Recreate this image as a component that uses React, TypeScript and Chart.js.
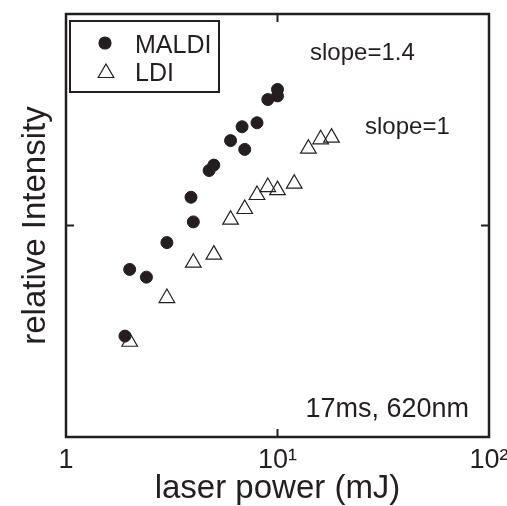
import React, { useEffect, useRef } from "react";
import { Chart, registerables } from "chart.js";

Chart.register(...registerables);

// ---- data ----
const maldiPower = [1.9, 2.0, 2.4, 3.0, 4.0, 3.9, 4.75, 5.0, 6.0, 7.0, 6.8, 8.0, 9.0, 10.0, 10.0];
const maldiIntensity = [3.0, 6.2, 5.7, 8.3, 10.4, 13.6, 18.2, 19.3, 25.2, 22.9, 29.3, 30.6, 39.4, 41.0, 44.0];
const ldiPower = [2.0, 3.0, 4.0, 5.0, 6.0, 7.0, 8.0, 9.0, 10.0, 12.0, 14.0, 16.0, 18.0];
const ldiIntensity = [2.82, 4.54, 6.67, 7.28, 10.65, 11.97, 13.94, 15.2, 14.69, 15.76, 23.08, 25.56, 26.02];
const seriesLabels = ["MALDI", "LDI"];
const xTickValues = [1, 10, 100];
const xTickLabels = ["1", "10\u00B9", "10\u00B2"];
const yTickValues = [10];
const xTitle = "laser power (mJ)";
const yTitle = "relative Intensity";
const noteTexts = ["slope=1.4", "slope=1", "17ms, 620nm"];

const INK = "#231f20";
const FONT = "'Liberation Sans', Arial, Helvetica, sans-serif";

function drawMarker(ctx: CanvasRenderingContext2D, style: string, x: number, y: number, r: number, filled: boolean) {
  ctx.beginPath();
  if (style === "triangle") {
    ctx.moveTo(x, y - r);
    ctx.lineTo(x + 0.866 * r, y + 0.5 * r);
    ctx.lineTo(x - 0.866 * r, y + 0.5 * r);
    ctx.closePath();
  } else {
    ctx.arc(x, y, r, 0, Math.PI * 2);
  }
  if (filled) {
    ctx.fillStyle = INK;
    ctx.fill();
  }
  ctx.strokeStyle = INK;
  ctx.stroke();
}

const framePlugin = {
  id: "frameAndNotes",
  afterDraw(chart: any) {
    const { ctx, chartArea: a, scales } = chart;
    ctx.save();
    // frame
    ctx.strokeStyle = INK;
    ctx.lineWidth = 2.5;
    ctx.strokeRect(a.left, a.top, a.right - a.left, a.bottom - a.top);
    // inward ticks
    ctx.lineWidth = 2;
    const tl = 8;
    ctx.beginPath();
    xTickValues.slice(1, -1).forEach((v) => {
      const px = scales.x.getPixelForValue(v);
      ctx.moveTo(px, a.bottom);
      ctx.lineTo(px, a.bottom - tl);
      ctx.moveTo(px, a.top);
      ctx.lineTo(px, a.top + tl);
    });
    yTickValues.forEach((v) => {
      const py = scales.y.getPixelForValue(v);
      ctx.moveTo(a.left, py);
      ctx.lineTo(a.left + tl, py);
      ctx.moveTo(a.right, py);
      ctx.lineTo(a.right - tl, py);
    });
    ctx.stroke();

    // annotations
    ctx.fillStyle = INK;
    ctx.textBaseline = "alphabetic";
    ctx.font = `24px ${FONT}`;
    ctx.textAlign = "left";
    ctx.fillText(noteTexts[0], a.left + 244, a.top + 45.5);
    ctx.fillText(noteTexts[1], a.left + 299, a.top + 120);
    ctx.font = `27px ${FONT}`;
    ctx.textAlign = "right";
    ctx.fillText(noteTexts[2], a.right - 20, a.bottom - 20.5);

    // legend
    const lx = a.left + 4;
    const ly = a.top + 7;
    ctx.lineWidth = 2;
    ctx.strokeStyle = INK;
    ctx.strokeRect(lx, ly, 149, 71);
    const ds = chart.data.datasets;
    ctx.font = `25px ${FONT}`;
    ctx.textAlign = "left";
    ctx.lineWidth = 1.2;
    drawMarker(ctx, ds[0].pointStyle, lx + 35, ly + 22, 6, true);
    ctx.fillStyle = INK;
    ctx.fillText(ds[0].label, lx + 65, ly + 32);
    drawMarker(ctx, ds[1].pointStyle, lx + 36, ly + 52, 9, false);
    ctx.fillStyle = INK;
    ctx.fillText(ds[1].label, lx + 65, ly + 59.5);
    ctx.restore();
  },
};

export default function App() {
  const canvasRef = useRef<HTMLCanvasElement | null>(null);

  useEffect(() => {
    const canvas = canvasRef.current;
    if (!canvas) return;
    const chart = new Chart(canvas, {
      type: "scatter",
      data: {
        datasets: [
          {
            label: seriesLabels[0],
            data: maldiPower.map((x, i) => ({ x, y: maldiIntensity[i] })),
            pointStyle: "circle",
            pointRadius: 6,
            backgroundColor: INK,
            borderColor: INK,
            borderWidth: 1,
          },
          {
            label: seriesLabels[1],
            data: ldiPower.map((x, i) => ({ x, y: ldiIntensity[i] })),
            pointStyle: "triangle",
            pointRadius: 9,
            backgroundColor: "rgba(0,0,0,0)",
            borderColor: INK,
            borderWidth: 1.2,
          },
        ],
      },
      options: {
        responsive: false,
        animation: false,
        devicePixelRatio: 1,
        layout: { padding: { left: 0, top: 14, right: 18, bottom: 0 } },
        plugins: {
          legend: { display: false },
          tooltip: { enabled: false },
        },
        scales: {
          x: {
            type: "logarithmic",
            position: "bottom",
            min: 1,
            max: 100,
            grid: { display: false, drawTicks: false },
            border: { display: false },
            afterBuildTicks: (s: any) => {
              s.ticks = xTickValues.map((v) => ({ value: v }));
            },
            afterFit: (s: any) => {
              s.height = 69;
              s.paddingLeft = 0;
              s.paddingRight = 0;
            },
            ticks: {
              autoSkip: false,
              maxRotation: 0,
              minRotation: 0,
              padding: 10,
              color: INK,
              font: { family: FONT, size: 27, lineHeight: 1 },
              callback: (v: any) => {
                const i = xTickValues.indexOf(Number(v));
                return i >= 0 ? xTickLabels[i] : "";
              },
            },
            title: {
              display: true,
              text: xTitle,
              color: INK,
              font: { family: FONT, size: 33, lineHeight: 1 },
              padding: { top: 0, bottom: 1 },
            },
          },
          y: {
            type: "logarithmic",
            position: "left",
            min: 1,
            max: 100,
            grid: { display: false, drawTicks: false },
            border: { display: false },
            ticks: { display: false },
            afterFit: (s: any) => {
              s.width = 66;
            },
            title: {
              display: true,
              text: yTitle,
              color: INK,
              font: { family: FONT, size: 33, lineHeight: 1 },
              padding: { top: 19, bottom: 0 },
            },
          },
        },
      },
      plugins: [framePlugin],
    } as any);
    return () => chart.destroy();
  }, []);

  return (
    <div style={{ position: "fixed", left: 0, top: 0, width: 507, height: 506, background: "#fff" }}>
      <canvas ref={canvasRef} width={507} height={506} style={{ display: "block" }} />
    </div>
  );
}
